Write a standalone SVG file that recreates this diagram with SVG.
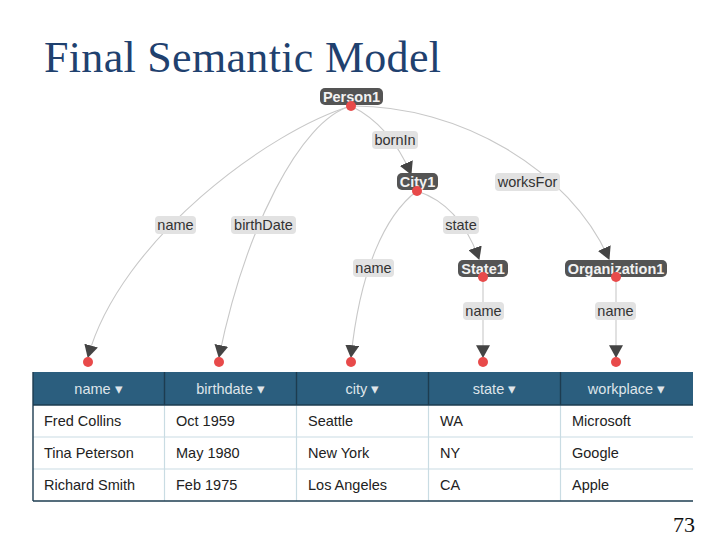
<svg xmlns="http://www.w3.org/2000/svg" width="720" height="540" viewBox="0 0 720 540">
<style>
.title{font-family:"Liberation Serif","DejaVu Serif",serif;font-size:44px;fill:#1f416f}
.pg{font-family:"Liberation Serif","DejaVu Serif",serif;font-size:22px;fill:#111}
.edge{fill:none;stroke:#c8c8c8;stroke-width:1.1}
.elbl rect{fill:#e2e2e2}
.elbl text{font-family:"Liberation Sans",Arial,sans-serif;font-size:14.5px;fill:#333;text-anchor:middle}
.node rect{fill:#545454}
.node text{font-family:"Liberation Sans",Arial,sans-serif;font-size:14.5px;font-weight:bold;fill:#f2f2f2;text-anchor:middle}
.dot{fill:#e84a4a}
.hdr{fill:#2b5e7e}
.htxt{font-family:"Liberation Sans",Arial,sans-serif;font-size:14.5px;fill:#dfe5ea;text-anchor:middle}
.btxt{font-family:"Liberation Sans",Arial,sans-serif;font-size:14.5px;fill:#222}
.rowline{stroke:#c9dce3;stroke-width:1.2}
.dark{stroke:#1d3c50;stroke-width:1.4}
</style>
<defs>
<marker id="arr" markerUnits="userSpaceOnUse" markerWidth="14" markerHeight="14" refX="11" refY="6.5" orient="auto" viewBox="0 0 13 13">
<path d="M0,0 L12,6.5 L0,13 z" fill="#444"/>
</marker>
</defs>

<text class="title" x="44" y="72" textLength="397" lengthAdjust="spacing">Final Semantic Model</text>

<g id="connectors">
<path class="edge" d="M351,106 C270,130 120,240 88,357" marker-end="url(#arr)"/>
<path class="edge" d="M351,106 C300,120 245,230 219,357" marker-end="url(#arr)"/>
<path class="edge" d="M351,106 Q390,125 411,174" marker-end="url(#arr)"/>
<path class="edge" d="M351,106 C460,105 570,170 609,259" marker-end="url(#arr)"/>
<path class="edge" d="M417,191 C385,215 360,270 351,357" marker-end="url(#arr)"/>
<path class="edge" d="M417,191 Q460,205 479,259" marker-end="url(#arr)"/>
<path class="edge" d="M483,277 L483,357" marker-end="url(#arr)"/>
<path class="edge" d="M616,277 L616,357" marker-end="url(#arr)"/>
</g>

<g id="edge-labels">
<g class="elbl" id="lbl-name1"><rect x="155" y="216" width="41" height="18" rx="4"/><text x="175.5" y="230">name</text></g>
<g class="elbl" id="lbl-birthDate"><rect x="231" y="216" width="65" height="18" rx="4"/><text x="263.5" y="230">birthDate</text></g>
<g class="elbl" id="lbl-bornIn"><rect x="372" y="131" width="46" height="18" rx="4"/><text x="395" y="145">bornIn</text></g>
<g class="elbl" id="lbl-worksFor"><rect x="495" y="173" width="65" height="18" rx="4"/><text x="527.5" y="187">worksFor</text></g>
<g class="elbl" id="lbl-state"><rect x="443" y="216" width="36" height="18" rx="4"/><text x="461" y="230">state</text></g>
<g class="elbl" id="lbl-name2"><rect x="353" y="259" width="41" height="18" rx="4"/><text x="373.5" y="273">name</text></g>
<g class="elbl" id="lbl-name3"><rect x="463" y="302" width="41" height="18" rx="4"/><text x="483.5" y="316">name</text></g>
<g class="elbl" id="lbl-name4"><rect x="595" y="302" width="41" height="18" rx="4"/><text x="615.5" y="316">name</text></g>
</g>

<g id="Person1" class="node"><rect x="320" y="88" width="63" height="17" rx="5"/><text x="351.5" y="102">Person1</text><circle class="dot" cx="351" cy="106" r="5"/></g>
<g id="City1" class="node"><rect x="397" y="173" width="41" height="17" rx="5"/><text x="417.5" y="187">City1</text><circle class="dot" cx="417" cy="191" r="5"/></g>
<g id="State1" class="node"><rect x="458" y="260" width="50" height="17" rx="5"/><text x="483" y="274">State1</text><circle class="dot" cx="483" cy="277" r="5"/></g>
<g id="Organization1" class="node"><rect x="565" y="260" width="102" height="17" rx="5"/><text x="616" y="274">Organization1</text><circle class="dot" cx="616" cy="277" r="5"/></g>

<g id="col-dots">
<circle class="dot" cx="88" cy="362" r="5"/>
<circle class="dot" cx="219" cy="362" r="5"/>
<circle class="dot" cx="351" cy="362" r="5"/>
<circle class="dot" cx="483" cy="362" r="5"/>
<circle class="dot" cx="616" cy="362" r="5"/>
</g>

<g id="table">
<rect class="hdr" x="33" y="372" width="660" height="33"/>
<rect x="33" y="405" width="660" height="96" fill="#ffffff"/>
<line class="rowline" x1="33" y1="437" x2="693" y2="437"/>
<line class="rowline" x1="33" y1="469" x2="693" y2="469"/>
<line class="rowline" x1="164.5" y1="405" x2="164.5" y2="501"/>
<line class="rowline" x1="296.5" y1="405" x2="296.5" y2="501"/>
<line class="rowline" x1="428.5" y1="405" x2="428.5" y2="501"/>
<line class="rowline" x1="560.5" y1="405" x2="560.5" y2="501"/>
<line class="dark" x1="164.5" y1="372" x2="164.5" y2="405"/>
<line class="dark" x1="296.5" y1="372" x2="296.5" y2="405"/>
<line class="dark" x1="428.5" y1="372" x2="428.5" y2="405"/>
<line class="dark" x1="560.5" y1="372" x2="560.5" y2="405"/>
<line class="dark" x1="33" y1="405" x2="693" y2="405"/>
<line class="dark" x1="33" y1="501" x2="693" y2="501"/>
<line class="dark" x1="33" y1="372" x2="33" y2="501"/>
<text class="htxt" x="98.5" y="394">name ▾</text>
<text class="htxt" x="230.5" y="394">birthdate ▾</text>
<text class="htxt" x="362.5" y="394">city ▾</text>
<text class="htxt" x="494.5" y="394">state ▾</text>
<text class="htxt" x="626.5" y="394">workplace ▾</text>
<text class="btxt" x="44" y="426">Fred Collins</text>
<text class="btxt" x="176" y="426">Oct 1959</text>
<text class="btxt" x="308" y="426">Seattle</text>
<text class="btxt" x="440" y="426">WA</text>
<text class="btxt" x="572" y="426">Microsoft</text>
<text class="btxt" x="44" y="458">Tina Peterson</text>
<text class="btxt" x="176" y="458">May 1980</text>
<text class="btxt" x="308" y="458">New York</text>
<text class="btxt" x="440" y="458">NY</text>
<text class="btxt" x="572" y="458">Google</text>
<text class="btxt" x="44" y="490">Richard Smith</text>
<text class="btxt" x="176" y="490">Feb 1975</text>
<text class="btxt" x="308" y="490">Los Angeles</text>
<text class="btxt" x="440" y="490">CA</text>
<text class="btxt" x="572" y="490">Apple</text>
</g>

<text class="pg" x="695" y="532" text-anchor="end">73</text>
</svg>
